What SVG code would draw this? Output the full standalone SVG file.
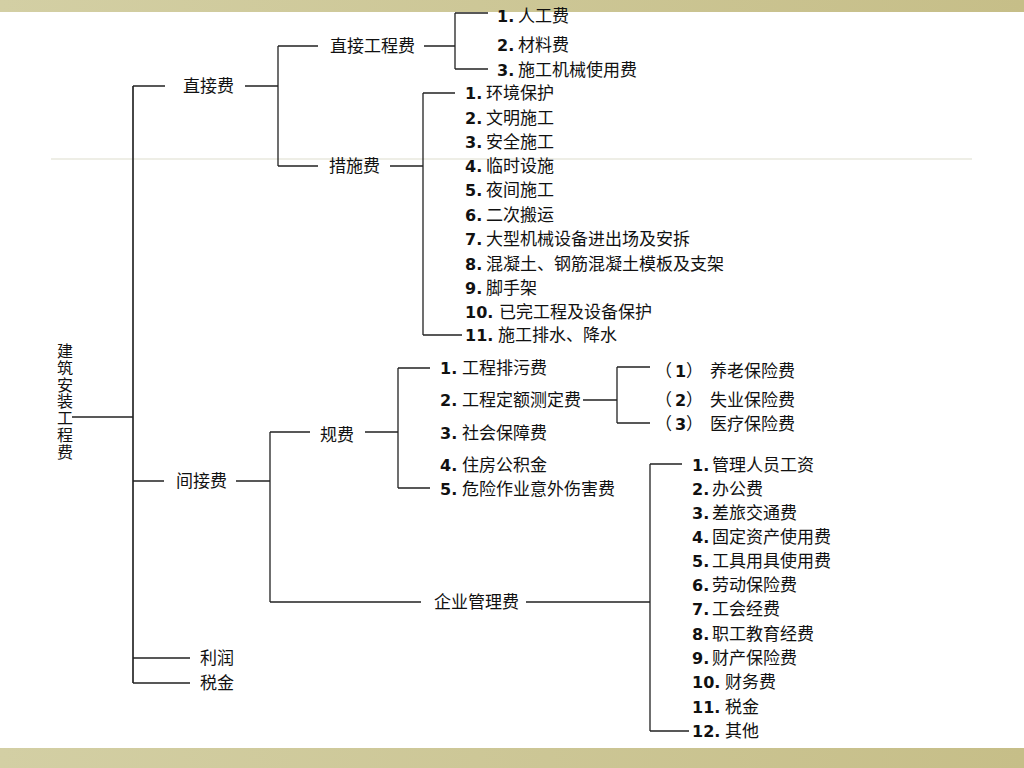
<svg xmlns="http://www.w3.org/2000/svg" width="1024" height="768" viewBox="0 0 1024 768">
<defs>
<linearGradient id="band" x1="0" y1="0" x2="1" y2="0">
<stop offset="0" stop-color="#d3cfa4"/>
<stop offset="1" stop-color="#c6be88"/>
</linearGradient>
<style>
text{font-family:"Noto Sans CJK SC","Liberation Sans",sans-serif;font-size:17px;fill:#111}
.n{font-family:"DejaVu Sans","Liberation Sans",sans-serif;font-weight:bold;font-size:16px}
.c{stroke:#222;stroke-width:1.3;fill:none}
.t{stroke:#333;stroke-width:1.8;fill:none}
</style>
</defs>
<rect x="0" y="0" width="1024" height="768" fill="#ffffff"/>
<rect x="0" y="0" width="1024" height="12" fill="url(#band)"/>
<rect x="0" y="748" width="1024" height="20" fill="url(#band)"/>
<line x1="51" y1="159" x2="972" y2="159" stroke="#eeeee6" stroke-width="2"/>

<g id="connectors">
<path class="t" d="M133 86 V683"/>
<path class="c" d="M72 417 H133"/>
<path class="c" d="M133 86 H165 M245 86 H278 M278 46 V166 M278 46 H318 M278 166 H318"/>
<path class="c" d="M424 46 H455 M455 13 V69 M455 13 H488 M455 69 H488"/>
<path class="c" d="M390 166 H423 M423 93 V335 M423 93 H455 M423 335 H462"/>
<path class="c" d="M133 481 H164 M236 481 H270 M270 432 V602 M270 432 H310 M270 602 H421"/>
<path class="c" d="M365 432 H398 M398 368 V488 M398 368 H430 M398 488 H430"/>
<path class="c" d="M583 400 H617 M617 367 V423 M617 367 H650 M617 423 H650"/>
<path class="c" d="M526 602 H650 M650 464 V731 M650 464 H682 M650 731 H689"/>
<path class="c" d="M133 658 H190 M133 683 H190"/>
</g>

<g id="root">
<text x="65" y="343" writing-mode="vertical-rl" style="font-size:16px;letter-spacing:0.75px">建筑安装工程费</text>
</g>

<g id="zhijiefei"><text x="183" y="92">直接费</text></g>
<g id="zhijiegongchengfei"><text x="330" y="52">直接工程费</text></g>
<g id="direct-items">
<text x="497" y="22"><tspan class="n">1.</tspan><tspan x="518">人工费</tspan></text>
<text x="497" y="51"><tspan class="n">2.</tspan><tspan x="518">材料费</tspan></text>
<text x="497" y="76"><tspan class="n">3.</tspan><tspan x="518">施工机械使用费</tspan></text>
</g>

<g id="cuoshifei"><text x="329" y="172">措施费</text></g>
<g id="measure-items">
<text x="465" y="99"><tspan class="n">1.</tspan><tspan x="486">环境保护</tspan></text>
<text x="465" y="124"><tspan class="n">2.</tspan><tspan x="486">文明施工</tspan></text>
<text x="465" y="148"><tspan class="n">3.</tspan><tspan x="486">安全施工</tspan></text>
<text x="465" y="172"><tspan class="n">4.</tspan><tspan x="486">临时设施</tspan></text>
<text x="465" y="196"><tspan class="n">5.</tspan><tspan x="486">夜间施工</tspan></text>
<text x="465" y="221"><tspan class="n">6.</tspan><tspan x="486">二次搬运</tspan></text>
<text x="465" y="245"><tspan class="n">7.</tspan><tspan x="486">大型机械设备进出场及安拆</tspan></text>
<text x="465" y="270"><tspan class="n">8.</tspan><tspan x="486">混凝土、钢筋混凝土模板及支架</tspan></text>
<text x="465" y="294"><tspan class="n">9.</tspan><tspan x="486">脚手架</tspan></text>
<text x="465" y="318"><tspan class="n">10.</tspan><tspan x="499">已完工程及设备保护</tspan></text>
<text x="465" y="341"><tspan class="n">11.</tspan><tspan x="498">施工排水、降水</tspan></text>
</g>

<g id="jianjiefei"><text x="176" y="487">间接费</text></g>
<g id="guifei"><text x="320" y="441">规费</text></g>
<g id="fee-items">
<text x="440" y="374"><tspan class="n">1.</tspan><tspan x="462">工程排污费</tspan></text>
<text x="440" y="406"><tspan class="n">2.</tspan><tspan x="462">工程定额测定费</tspan></text>
<text x="440" y="439"><tspan class="n">3.</tspan><tspan x="462">社会保障费</tspan></text>
<text x="440" y="471"><tspan class="n">4.</tspan><tspan x="462">住房公积金</tspan></text>
<text x="440" y="495"><tspan class="n">5.</tspan><tspan x="462">危险作业意外伤害费</tspan></text>
</g>
<g id="insurance-items">
<text x="655" y="377">（<tspan class="n" x="675">1</tspan><tspan x="686">）</tspan><tspan x="710">养老保险费</tspan></text>
<text x="655" y="406">（<tspan class="n" x="675">2</tspan><tspan x="686">）</tspan><tspan x="710">失业保险费</tspan></text>
<text x="655" y="430">（<tspan class="n" x="675">3</tspan><tspan x="686">）</tspan><tspan x="710">医疗保险费</tspan></text>
</g>

<g id="qiyeguanlifei"><text x="434" y="608">企业管理费</text></g>
<g id="mgmt-items">
<text x="692" y="471"><tspan class="n">1.</tspan><tspan x="712">管理人员工资</tspan></text>
<text x="692" y="495"><tspan class="n">2.</tspan><tspan x="712">办公费</tspan></text>
<text x="692" y="519"><tspan class="n">3.</tspan><tspan x="712">差旅交通费</tspan></text>
<text x="692" y="543"><tspan class="n">4.</tspan><tspan x="712">固定资产使用费</tspan></text>
<text x="692" y="567"><tspan class="n">5.</tspan><tspan x="712">工具用具使用费</tspan></text>
<text x="692" y="591"><tspan class="n">6.</tspan><tspan x="712">劳动保险费</tspan></text>
<text x="692" y="615"><tspan class="n">7.</tspan><tspan x="712">工会经费</tspan></text>
<text x="692" y="640"><tspan class="n">8.</tspan><tspan x="712">职工教育经费</tspan></text>
<text x="692" y="664"><tspan class="n">9.</tspan><tspan x="712">财产保险费</tspan></text>
<text x="692" y="688"><tspan class="n">10.</tspan><tspan x="725">财务费</tspan></text>
<text x="692" y="713"><tspan class="n">11.</tspan><tspan x="725">税金</tspan></text>
<text x="692" y="737"><tspan class="n">12.</tspan><tspan x="725">其他</tspan></text>
</g>

<g id="lirun"><text x="200" y="664">利润</text></g>
<g id="shuijin"><text x="200" y="689">税金</text></g>
</svg>
